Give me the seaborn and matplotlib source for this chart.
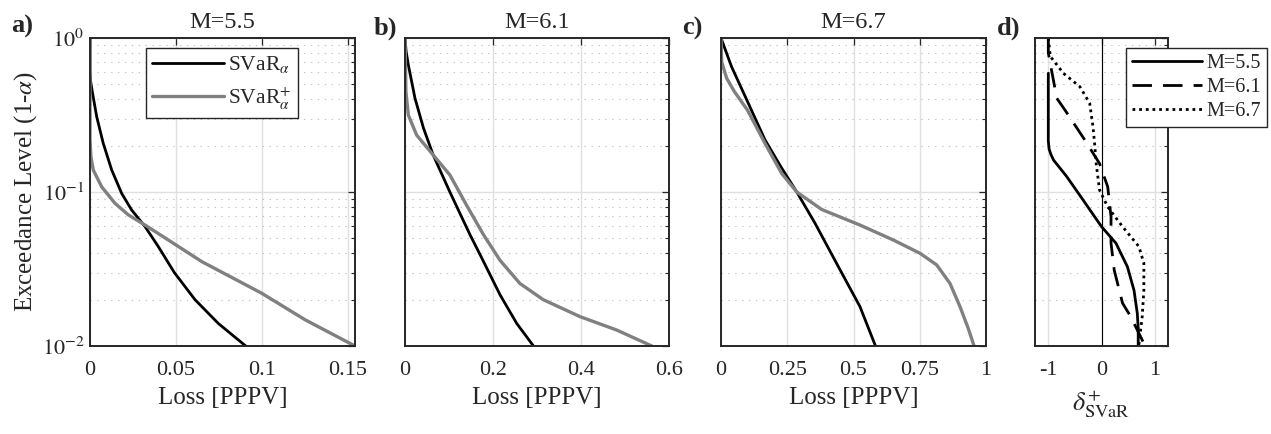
import numpy as np
import pandas as pd
import matplotlib
matplotlib.use("Agg")
import matplotlib.pyplot as plt
import seaborn as sns
from matplotlib.ticker import LogLocator, NullLocator

# ---------------- data ----------------
titles = ["M=5.5", "M=6.1", "M=6.7"]
panel_letters = ["a)", "b)", "c)", "d)"]

# panel a (M=5.5)
a_loss_svar = [0, 0, 0.0004, 0.0013, 0.0039, 0.0077, 0.0126, 0.0184, 0.0242, 0.032, 0.0397, 0.049, 0.061, 0.0746, 0.0905]
a_exc_svar = [1.0, 0.60, 0.52, 0.45, 0.308, 0.207, 0.139, 0.098, 0.0764, 0.0596, 0.0442, 0.030, 0.020, 0.014, 0.010]
a_loss_plus = [0, 0, 0.0005, 0.0019, 0.0068, 0.0145, 0.0223, 0.032, 0.0455, 0.065, 0.0998, 0.125, 0.154]
a_exc_plus = [1.0, 0.22, 0.17, 0.139, 0.108, 0.0845, 0.071, 0.061, 0.0488, 0.0353, 0.022, 0.0148, 0.010]

# panel b (M=6.1)
b_loss_svar = [0, 0.0025, 0.0076, 0.0227, 0.042, 0.064, 0.102, 0.148, 0.174, 0.216, 0.254, 0.292]
b_exc_svar = [1.0, 0.82, 0.668, 0.406, 0.26, 0.174, 0.100, 0.0526, 0.0375, 0.0215, 0.014, 0.010]
b_loss_plus = [0, 0.001, 0.002, 0.0076, 0.0265, 0.064, 0.102, 0.140, 0.178, 0.216, 0.261, 0.314, 0.398, 0.481, 0.561]
b_exc_plus = [1.0, 0.70, 0.45, 0.316, 0.234, 0.174, 0.129, 0.082, 0.053, 0.036, 0.0255, 0.020, 0.0155, 0.0127, 0.010]

# panel c (M=6.7)
c_loss_svar = [0, 0.040, 0.103, 0.166, 0.229, 0.286, 0.355, 0.430, 0.5245, 0.583]
c_exc_svar = [1.0, 0.65, 0.377, 0.218, 0.143, 0.100, 0.0626, 0.036, 0.018, 0.010]
c_loss_plus = [0, 0.0025, 0.021, 0.05, 0.10, 0.166, 0.229, 0.286, 0.38, 0.5245, 0.650, 0.751, 0.814, 0.864, 0.902, 0.933, 0.955]
c_exc_plus = [1.0, 0.70, 0.55, 0.45, 0.34, 0.207, 0.132, 0.100, 0.077, 0.061, 0.0488, 0.040, 0.0336, 0.0255, 0.018, 0.013, 0.010]

# panel d (relative difference)
d_m55_delta = [-1, -1, -0.985, -0.95, -0.90, -0.654, -0.346, 0.0, 0.272, 0.487, 0.611, 0.673, 0.69, 0.69]
d_m55_exc = [0.59, 0.215, 0.19, 0.175, 0.161, 0.126, 0.0887, 0.0596, 0.0465, 0.0327, 0.023, 0.0163, 0.013, 0.010]
d_m61_delta = [-1, -1, -0.84, -0.685, -0.315, -0.037, 0.117, 0.179, 0.179, 0.24, 0.395, 0.55, 0.82]
d_m61_exc = [1.0, 0.80, 0.406, 0.34, 0.218, 0.153, 0.108, 0.069, 0.0465, 0.031, 0.019, 0.0155, 0.010]
d_m67_delta = [-1, -0.963, -0.716, -0.407, -0.222, -0.16, -0.13, -0.10, -0.037, 0.117, 0.395, 0.704, 0.796, 0.796, 0.765, 0.70]
d_m67_exc = [1.0, 0.76, 0.59, 0.483, 0.377, 0.265, 0.207, 0.153, 0.103, 0.080, 0.0596, 0.0442, 0.0345, 0.023, 0.0155, 0.010]

a_xticks = [0, 0.05, 0.1, 0.15]
a_xticklabels = ["0", "0.05", "0.1", "0.15"]
b_xticks = [0, 0.2, 0.4, 0.6]
b_xticklabels = ["0", "0.2", "0.4", "0.6"]
c_xticks = [0, 0.25, 0.5, 0.75, 1]
c_xticklabels = ["0", "0.25", "0.5", "0.75", "1"]
d_xticks = [-1, 0, 1]
d_xticklabels = ["-1", "0", "1"]
y_ticks = [0.01, 0.1, 1]
y_ticklabels = [r"$10^{-2}$", r"$10^{-1}$", r"$10^{0}$"]

legend_ab = [r"SVaR$_{\alpha}$", r"SVaR$^{+}_{\alpha}$"]
legend_d = ["M=5.5", "M=6.1", "M=6.7"]

# ---------------- style ----------------
sns.set_style("white")
plt.rcParams.update({
    "font.family": ["Liberation Serif", "DejaVu Serif"],
    "mathtext.fontset": "stix",
    "axes.unicode_minus": False,
})

W, H = 1271, 434
fig = plt.figure(figsize=(W / 100, H / 100), dpi=100)
TOP, BOT = 38, 346
TXT = "#262626"


def add_ax(l, r):
    return fig.add_axes([l / W, 1 - BOT / H, (r - l) / W, (BOT - TOP) / H])


def style(ax, xlim, xticks, xticklabels, ylabels=False):
    ax.set_yscale("log")
    ax.set_ylim(0.01, 1)
    ax.set_xlim(*xlim)
    ax.set_xticks(xticks)
    ax.set_xticklabels(xticklabels)
    ax.set_yticks(y_ticks)
    ax.set_yticklabels(y_ticklabels if ylabels else [])
    ax.yaxis.set_minor_locator(LogLocator(base=10, subs=np.arange(2, 10), numticks=10))
    ax.xaxis.set_minor_locator(NullLocator())
    ax.grid(which="major", color="#e0e0e0", lw=1.0, ls="-")
    ax.yaxis.grid(which="minor", color="#c2c2c2", lw=0.8, ls=(0, (1.2, 5)))
    ax.set_axisbelow(True)
    ax.tick_params(which="both", direction="in", top=True, right=True, color=TXT)
    ax.tick_params(which="major", length=5, width=0.9)
    ax.tick_params(which="minor", length=3, width=0.8)
    ax.tick_params(axis="x", pad=11, labelsize=16, labelcolor=TXT)
    ax.tick_params(axis="y", pad=4, labelsize=16, labelcolor=TXT)
    for s in ax.spines.values():
        s.set_color(TXT)
        s.set_linewidth(1.4)


BLACK = "#000000"
GREY = "#808080"

panels = [
    (90, 355, a_loss_svar, a_exc_svar, a_loss_plus, a_exc_plus, (0, max(a_loss_plus)), a_xticks, a_xticklabels),
    (405, 669, b_loss_svar, b_exc_svar, b_loss_plus, b_exc_plus, (0, 0.6), b_xticks, b_xticklabels),
    (721, 986, c_loss_svar, c_exc_svar, c_loss_plus, c_exc_plus, (0, 1), c_xticks, c_xticklabels),
]

for i, (l, r, xs, ys, xp, yp, xlim, xt, xtl) in enumerate(panels):
    ax = add_ax(l, r)
    sns.lineplot(x=xs, y=ys, ax=ax, color=BLACK, lw=2.0, estimator=None, sort=False,
                 label=legend_ab[0])
    sns.lineplot(x=xp, y=yp, ax=ax, color=GREY, lw=2.4, estimator=None, sort=False,
                 label=legend_ab[1])
    style(ax, xlim, xt, xtl, ylabels=(i == 0))
    ax.set_xlabel("Loss [PPPV]", fontsize=18, labelpad=5, color=TXT)
    ax.set_ylabel("")
    ax.set_title(titles[i], fontsize=17.5, pad=7)
    if i == 0:
        ax.set_ylabel(r"Exceedance Level (1-$\alpha$)", fontsize=18, labelpad=2, color=TXT)
        leg = ax.legend(loc="upper left", bbox_to_anchor=(146 / W, 1 - 48 / H),
                        bbox_transform=fig.transFigure, borderaxespad=0,
                        fontsize=15.5, handlelength=3.3, handletextpad=0.2,
                        labelspacing=0.45, fancybox=False, framealpha=1,
                        edgecolor=TXT, borderpad=0.3)
        leg.get_frame().set_linewidth(1.0)
    else:
        ax.get_legend().remove()

# panel d
axd = add_ax(1035, 1168)
axd.axvline(0, color=BLACK, lw=0.8, zorder=1.5)
sns.lineplot(x=d_m55_delta, y=d_m55_exc, ax=axd, color=BLACK, lw=2.0, estimator=None,
             sort=False, label=legend_d[0])
sns.lineplot(x=d_m61_delta, y=d_m61_exc, ax=axd, color=BLACK, lw=2.0, estimator=None,
             sort=False, label=legend_d[1], linestyle=(0, (7, 4)))
sns.lineplot(x=d_m67_delta, y=d_m67_exc, ax=axd, color=BLACK, lw=2.0, estimator=None,
             sort=False, label=legend_d[2], linestyle=(0, (1, 1.4)))
style(axd, (-1.25, 1.25), d_xticks, d_xticklabels)
axd.set_ylabel("")
axd.set_xlabel(r"$\delta^{+}_{\mathrm{SVaR}}$", fontsize=19, labelpad=6)
legd = axd.legend(loc="upper right", bbox_to_anchor=(1267 / W, 1 - 48 / H),
                  bbox_transform=fig.transFigure, borderaxespad=0,
                  fontsize=14.5, handlelength=3.5, handletextpad=0.2,
                  labelspacing=0.25, fancybox=False, framealpha=1,
                  edgecolor=TXT, borderpad=0.3)
legd.get_frame().set_linewidth(1.0)

# panel letters
for (x, y), lab in zip([(22, 26), (385, 28), (692, 28), (1009, 28)], panel_letters):
    fig.text(x / W, 1 - y / H, lab, fontsize=19, fontweight="bold", ha="center", va="center")

fig.savefig("out.png", dpi=100)
